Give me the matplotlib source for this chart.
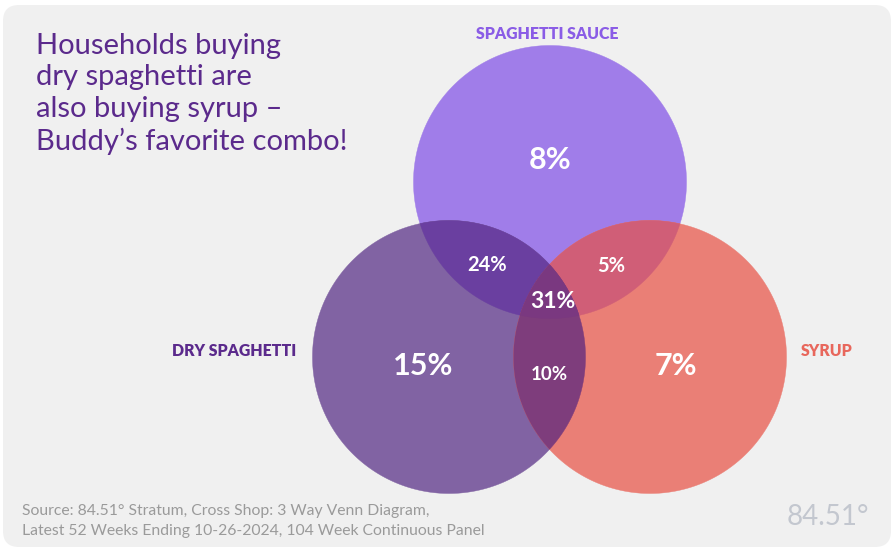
import numpy as np
import matplotlib
matplotlib.use("Agg")
import matplotlib.pyplot as plt
from matplotlib.patches import FancyBboxPatch, Polygon

# ---- data ----
sets = ["SPAGHETTI SAUCE", "DRY SPAGHETTI", "SYRUP"]
# region shares (% of households) keyed by which sets are included
region_keys = ["S", "D", "Y", "SD", "SY", "DY", "SDY"]
region_values = [8, 15, 7, 24, 5, 10, 31]
region_colors = ["#a07de9", "#8163a3", "#ea7f76", "#6a3fa0", "#d05e77", "#7e3d7c", "#7a3880"]
title = "Households buying\ndry spaghetti are\nalso buying syrup –\nBuddy’s favorite combo!"
source = "Source: 84.51° Stratum, Cross Shop: 3 Way Venn Diagram,\nLatest 52 Weeks Ending 10-26-2024, 104 Week Continuous Panel"

# ---- layout ----
W, H = 894, 550
fig = plt.figure(figsize=(W / 100, H / 100), dpi=100)
ax = fig.add_axes([0, 0, 1, 1])
ax.set_xlim(0, W)
ax.set_ylim(H, 0)
ax.axis("off")
fig.patch.set_facecolor("white")

panel = FancyBboxPatch((3 + 16, 5 + 16), 888 - 32, 542 - 32,
                       boxstyle="round,pad=16", fc="#f0f0f0", ec="none", zorder=0)
ax.add_patch(panel)

centers = {"S": (550, 182), "D": (449, 357), "Y": (650, 357)}
R = 136.5

def region_polygon(keys):
    pts = []
    t = np.linspace(0, 2 * np.pi, 3000, endpoint=False)
    for k in keys:
        cx, cy = centers[k]
        circ = np.column_stack([cx + R * np.cos(t), cy + R * np.sin(t)])
        others = [centers[o] for o in keys if o != k]
        mask = np.ones(len(circ), bool)
        for oc in others:
            mask &= ((circ[:, 0] - oc[0]) ** 2 + (circ[:, 1] - oc[1]) ** 2) <= R ** 2 + 1e-6
        pts.append(circ[mask])
    pts = np.vstack(pts)
    m = pts.mean(axis=0)
    ang = np.arctan2(pts[:, 1] - m[1], pts[:, 0] - m[0])
    return pts[np.argsort(ang)]

for key, col in zip(region_keys, region_colors):
    poly = region_polygon(list(key))
    ax.add_patch(Polygon(poly, closed=True, fc=col, ec=col, lw=0.3, zorder=1 + len(key)))

# region labels
label_pos = {"S": (550, 160), "D": (423, 366), "Y": (676, 366),
             "SD": (487, 265), "SY": (611, 266), "DY": (549, 374), "SDY": (553, 302)}
label_size = {"S": 22, "D": 22, "Y": 22, "SD": 14.5, "SY": 14.5, "DY": 13.5, "SDY": 16.5}
FONT = "Lato"
for key, v in zip(region_keys, region_values):
    x, y = label_pos[key]
    ax.text(x, y, f"{v}%", color="white", fontsize=label_size[key], fontweight="bold",
            family=FONT, ha="center", va="center", zorder=10)

# set labels
ax.text(547, 34, sets[0], color="#8a5ce6", fontsize=11.4, fontweight="heavy",
        family=FONT, ha="center", va="center")
ax.text(234, 351, sets[1], color="#5b2a8c", fontsize=11.4, fontweight="heavy",
        family=FONT, ha="center", va="center")
ax.text(827, 351, sets[2], color="#e8675c", fontsize=11.4, fontweight="heavy",
        family=FONT, ha="center", va="center")

ax.text(36, 94, title, color="#5b2a8c", fontsize=21, family=FONT,
        ha="left", va="center", linespacing=1.27)

ax.text(22, 521, source, color="#9a9a9a", fontsize=11.3, family=FONT,
        ha="left", va="center", linespacing=1.55)

ax.text(869, 517, "84.51°", color="#c3c7cf", fontsize=20, family=FONT,
        fontweight="normal", ha="right", va="center")

fig.savefig("out.png", dpi=100, facecolor="white")
